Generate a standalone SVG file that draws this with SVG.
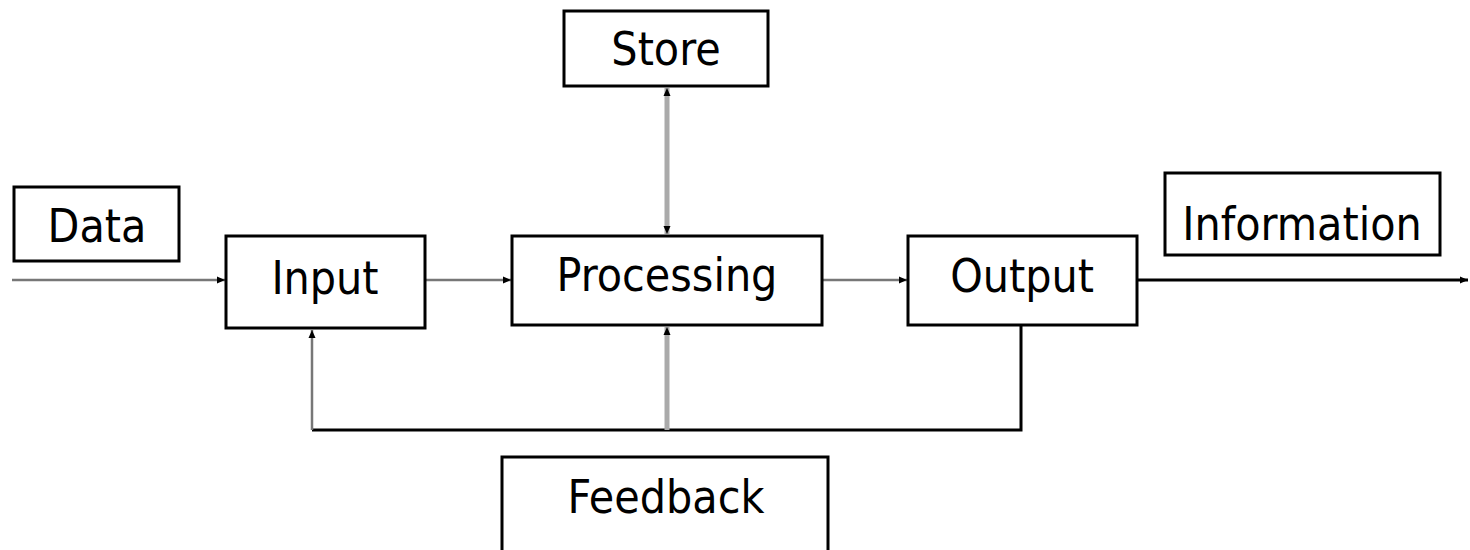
<svg xmlns="http://www.w3.org/2000/svg" width="1470" height="550" viewBox="0 0 1470 550">
<style>
.box{fill:#fff;stroke:#000;stroke-width:3}
.lbl{font-family:"DejaVu Sans Condensed","DejaVu Sans","Liberation Sans Narrow",sans-serif;font-size:46px;fill:#000;text-anchor:middle}
.thin{fill:none;stroke:#777;stroke-width:2.5}
.thick{fill:none;stroke:#aaa;stroke-width:5}
.blk{fill:none;stroke:#000;stroke-width:3}
</style>
<defs>
<marker id="ah" viewBox="0 0 8 8" refX="8" refY="4" markerWidth="8" markerHeight="8" markerUnits="userSpaceOnUse" orient="auto-start-reverse">
<path d="M0,0.5 L8,4 L0,7.5 Z" fill="#000"/>
</marker>
</defs>
<rect width="1470" height="550" fill="#fff"/>
<g id="connectors">
<line class="thin" x1="12" y1="280" x2="225" y2="280" marker-end="url(#ah)"/>
<line class="thin" x1="425" y1="280" x2="511" y2="280" marker-end="url(#ah)"/>
<line class="thin" x1="822" y1="280" x2="907" y2="280" marker-end="url(#ah)"/>
<line class="blk" x1="1137" y1="280" x2="1468" y2="280" marker-end="url(#ah)"/>
<line class="thick" x1="667" y1="88" x2="667" y2="234" marker-start="url(#ah)" marker-end="url(#ah)"/>
<polyline class="blk" points="1021,325 1021,430 312,430"/>
<line class="thin" x1="312" y1="430" x2="312" y2="330" marker-end="url(#ah)"/>
<line class="thick" x1="667" y1="430" x2="667" y2="327" marker-end="url(#ah)"/>
</g>
<g id="data"><rect class="box" x="14" y="187" width="165" height="74"/><text class="lbl" x="97" y="242">Data</text></g>
<g id="input"><rect class="box" x="226" y="236" width="199" height="92"/><text class="lbl" x="325" y="294">Input</text></g>
<g id="store"><rect class="box" x="564" y="11" width="204" height="75"/><text class="lbl" x="666" y="65">Store</text></g>
<g id="processing"><rect class="box" x="512" y="236" width="310" height="89"/><text class="lbl" x="667" y="291">Processing</text></g>
<g id="output"><rect class="box" x="908" y="236" width="229" height="89"/><text class="lbl" x="1022" y="292">Output</text></g>
<g id="information"><rect class="box" x="1165" y="173" width="275" height="82"/><text class="lbl" x="1302" y="240">Information</text></g>
<g id="feedback"><rect class="box" x="502" y="457" width="326" height="110"/><text class="lbl" x="666" y="513">Feedback</text></g>
</svg>
